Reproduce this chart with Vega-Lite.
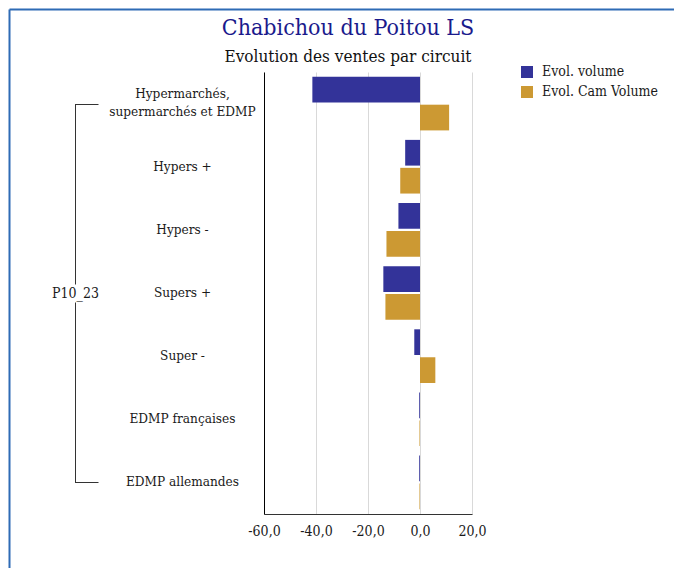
{
  "$schema": "https://vega.github.io/schema/vega-lite/v6.json",
  "width": 208,
  "height": 442,
  "autosize": {"type": "none"},
  "padding": {"left": 264, "top": 72, "right": 202, "bottom": 54},
  "background": "white",
  "title": {
    "text": "Chabichou du Poitou LS",
    "subtitle": "Evolution des ventes par circuit",
    "fontSize": 23,
    "fontWeight": "normal",
    "color": "#1a1a8c",
    "subtitleFontSize": 17,
    "subtitleColor": "#111111",
    "subtitlePadding": 9,
    "frame": "group",
    "anchor": "middle",
    "dx": -20,
    "offset": -56
  },
  "data": {
    "values": [
      {"circuit": "Hypermarchés, supermarchés et EDMP", "serie": "Evol. volume", "valeur": -41.4, "groupe": "P10_23"},
      {"circuit": "Hypermarchés, supermarchés et EDMP", "serie": "Evol. Cam Volume", "valeur": 11.2, "groupe": "P10_23"},
      {"circuit": "Hypers +", "serie": "Evol. volume", "valeur": -5.7, "groupe": "P10_23"},
      {"circuit": "Hypers +", "serie": "Evol. Cam Volume", "valeur": -7.6, "groupe": "P10_23"},
      {"circuit": "Hypers -", "serie": "Evol. volume", "valeur": -8.3, "groupe": "P10_23"},
      {"circuit": "Hypers -", "serie": "Evol. Cam Volume", "valeur": -12.9, "groupe": "P10_23"},
      {"circuit": "Supers +", "serie": "Evol. volume", "valeur": -14.1, "groupe": "P10_23"},
      {"circuit": "Supers +", "serie": "Evol. Cam Volume", "valeur": -13.3, "groupe": "P10_23"},
      {"circuit": "Super -", "serie": "Evol. volume", "valeur": -2.2, "groupe": "P10_23"},
      {"circuit": "Super -", "serie": "Evol. Cam Volume", "valeur": 5.9, "groupe": "P10_23"},
      {"circuit": "EDMP françaises", "serie": "Evol. volume", "valeur": -0.3, "groupe": "P10_23"},
      {"circuit": "EDMP françaises", "serie": "Evol. Cam Volume", "valeur": -0.2, "groupe": "P10_23"},
      {"circuit": "EDMP allemandes", "serie": "Evol. volume", "valeur": -0.3, "groupe": "P10_23"},
      {"circuit": "EDMP allemandes", "serie": "Evol. Cam Volume", "valeur": -0.2, "groupe": "P10_23"}
    ]
  },
  "layer": [
    {
      "mark": {"type": "bar"},
      "encoding": {
        "y": {
          "field": "circuit",
          "type": "nominal",
          "sort": ["Hypermarchés, supermarchés et EDMP", "Hypers +", "Hypers -", "Supers +", "Super -", "EDMP françaises", "EDMP allemandes"],
          "scale": {"paddingInner": 0.15, "paddingOuter": 0.075},
          "axis": {
            "title": null,
            "orient": "left",
            "ticks": false,
            "domain": true,
            "domainColor": "#000000",
            "domainWidth": 1,
            "grid": false,
            "labelAlign": "center",
            "labelBaseline": "middle",
            "labelPadding": 82,
            "labelFontSize": 13.5,
            "labelLimit": 300,
            "labelLineHeight": 18,
            "labelOffset": {"condition": {"test": "datum.value == 'Hypermarchés, supermarchés et EDMP'", "value": -9.5}, "value": 0},
            "labelColor": "#1a1a1a",
            "labelExpr": "datum.value == 'Hypermarchés, supermarchés et EDMP' ? ['Hypermarchés,', 'supermarchés et EDMP'] : datum.label"
          }
        },
        "yOffset": {
          "field": "serie",
          "type": "nominal",
          "sort": ["Evol. volume", "Evol. Cam Volume"],
          "scale": {"paddingInner": 0.08}
        },
        "x": {
          "field": "valeur",
          "type": "quantitative",
          "scale": {"domain": [-60, 20], "nice": false},
          "axis": {
            "title": null,
            "orient": "bottom",
            "values": [-60, -40, -20, 0, 20],
            "format": ".1f",
            "grid": true,
            "gridColor": "#d9d9d9",
            "gridWidth": 1,
            "ticks": false,
            "domainColor": "#333333",
            "labelPadding": 10,
            "labelFontSize": 14,
            "labelColor": "#1a1a1a",
            "labelFlush": false,
            "labelOverlap": false
          }
        },
        "color": {
          "field": "serie",
          "type": "nominal",
          "sort": ["Evol. volume", "Evol. Cam Volume"],
          "scale": {"domain": ["Evol. volume", "Evol. Cam Volume"], "range": ["#333399", "#cc9933"]},
          "legend": {
            "orient": "none",
            "legendX": 256,
            "legendY": -7,
            "title": null,
            "symbolType": "square",
            "symbolSize": 144,
            "symbolStrokeWidth": 0,
            "labelFontSize": 14,
            "labelOffset": 8,
            "rowPadding": 6,
            "labelColor": "#1a1a1a"
          }
        }
      }
    },
    {
      "mark": {"type": "tick", "opacity": 0},
      "encoding": {
        "y": {
          "field": "groupe",
          "type": "nominal",
          "scale": {"type": "band", "paddingInner": 0, "paddingOuter": 0.0833},
          "axis": {
            "title": null,
            "orient": "left",
            "offset": 189,
            "domain": true,
            "domainColor": "#333333",
            "domainWidth": 1,
            "domainDash": [180.5, 18, 180.5, 63],
            "domainDashOffset": 410.5,
            "ticks": true,
            "tickBand": "extent",
            "tickSize": -23,
            "tickColor": "#333333",
            "tickWidth": 1,
            "grid": false,
            "labelAlign": "center",
            "labelBaseline": "middle",
            "labelPadding": 23,
            "labelFontSize": 14,
            "labelColor": "#1a1a1a"
          }
        }
      }
    },
    {
      "mark": {"type": "tick", "opacity": 0, "clip": true},
      "encoding": {
        "x": {
          "field": "valeur",
          "type": "quantitative",
          "scale": {"domain": [-60, 20], "range": [-255, 420], "nice": false, "zero": false},
          "axis": {
            "title": null,
            "orient": "top",
            "offset": 63,
            "domain": true,
            "domainColor": "#2e6bb5",
            "domainWidth": 2,
            "ticks": false,
            "labels": false,
            "grid": false
          }
        },
        "y": {
          "field": "valeur",
          "type": "quantitative",
          "scale": {"domain": [-60, 20], "range": [510, -63], "nice": false, "zero": false},
          "axis": {
            "title": null,
            "orient": "left",
            "offset": 255,
            "domain": true,
            "domainColor": "#2e6bb5",
            "domainWidth": 2,
            "ticks": false,
            "labels": false,
            "grid": false
          }
        }
      }
    }
  ],
  "resolve": {"scale": {"x": "independent", "y": "independent"}, "axis": {"x": "independent", "y": "independent"}},
  "config": {
    "font": "DejaVu Serif Condensed",
    "view": {"stroke": null},
    "locale": {
      "number": {"decimal": ",", "thousands": " ", "grouping": [3], "currency": ["", " €"], "minus": "-"}
    }
  }
}
